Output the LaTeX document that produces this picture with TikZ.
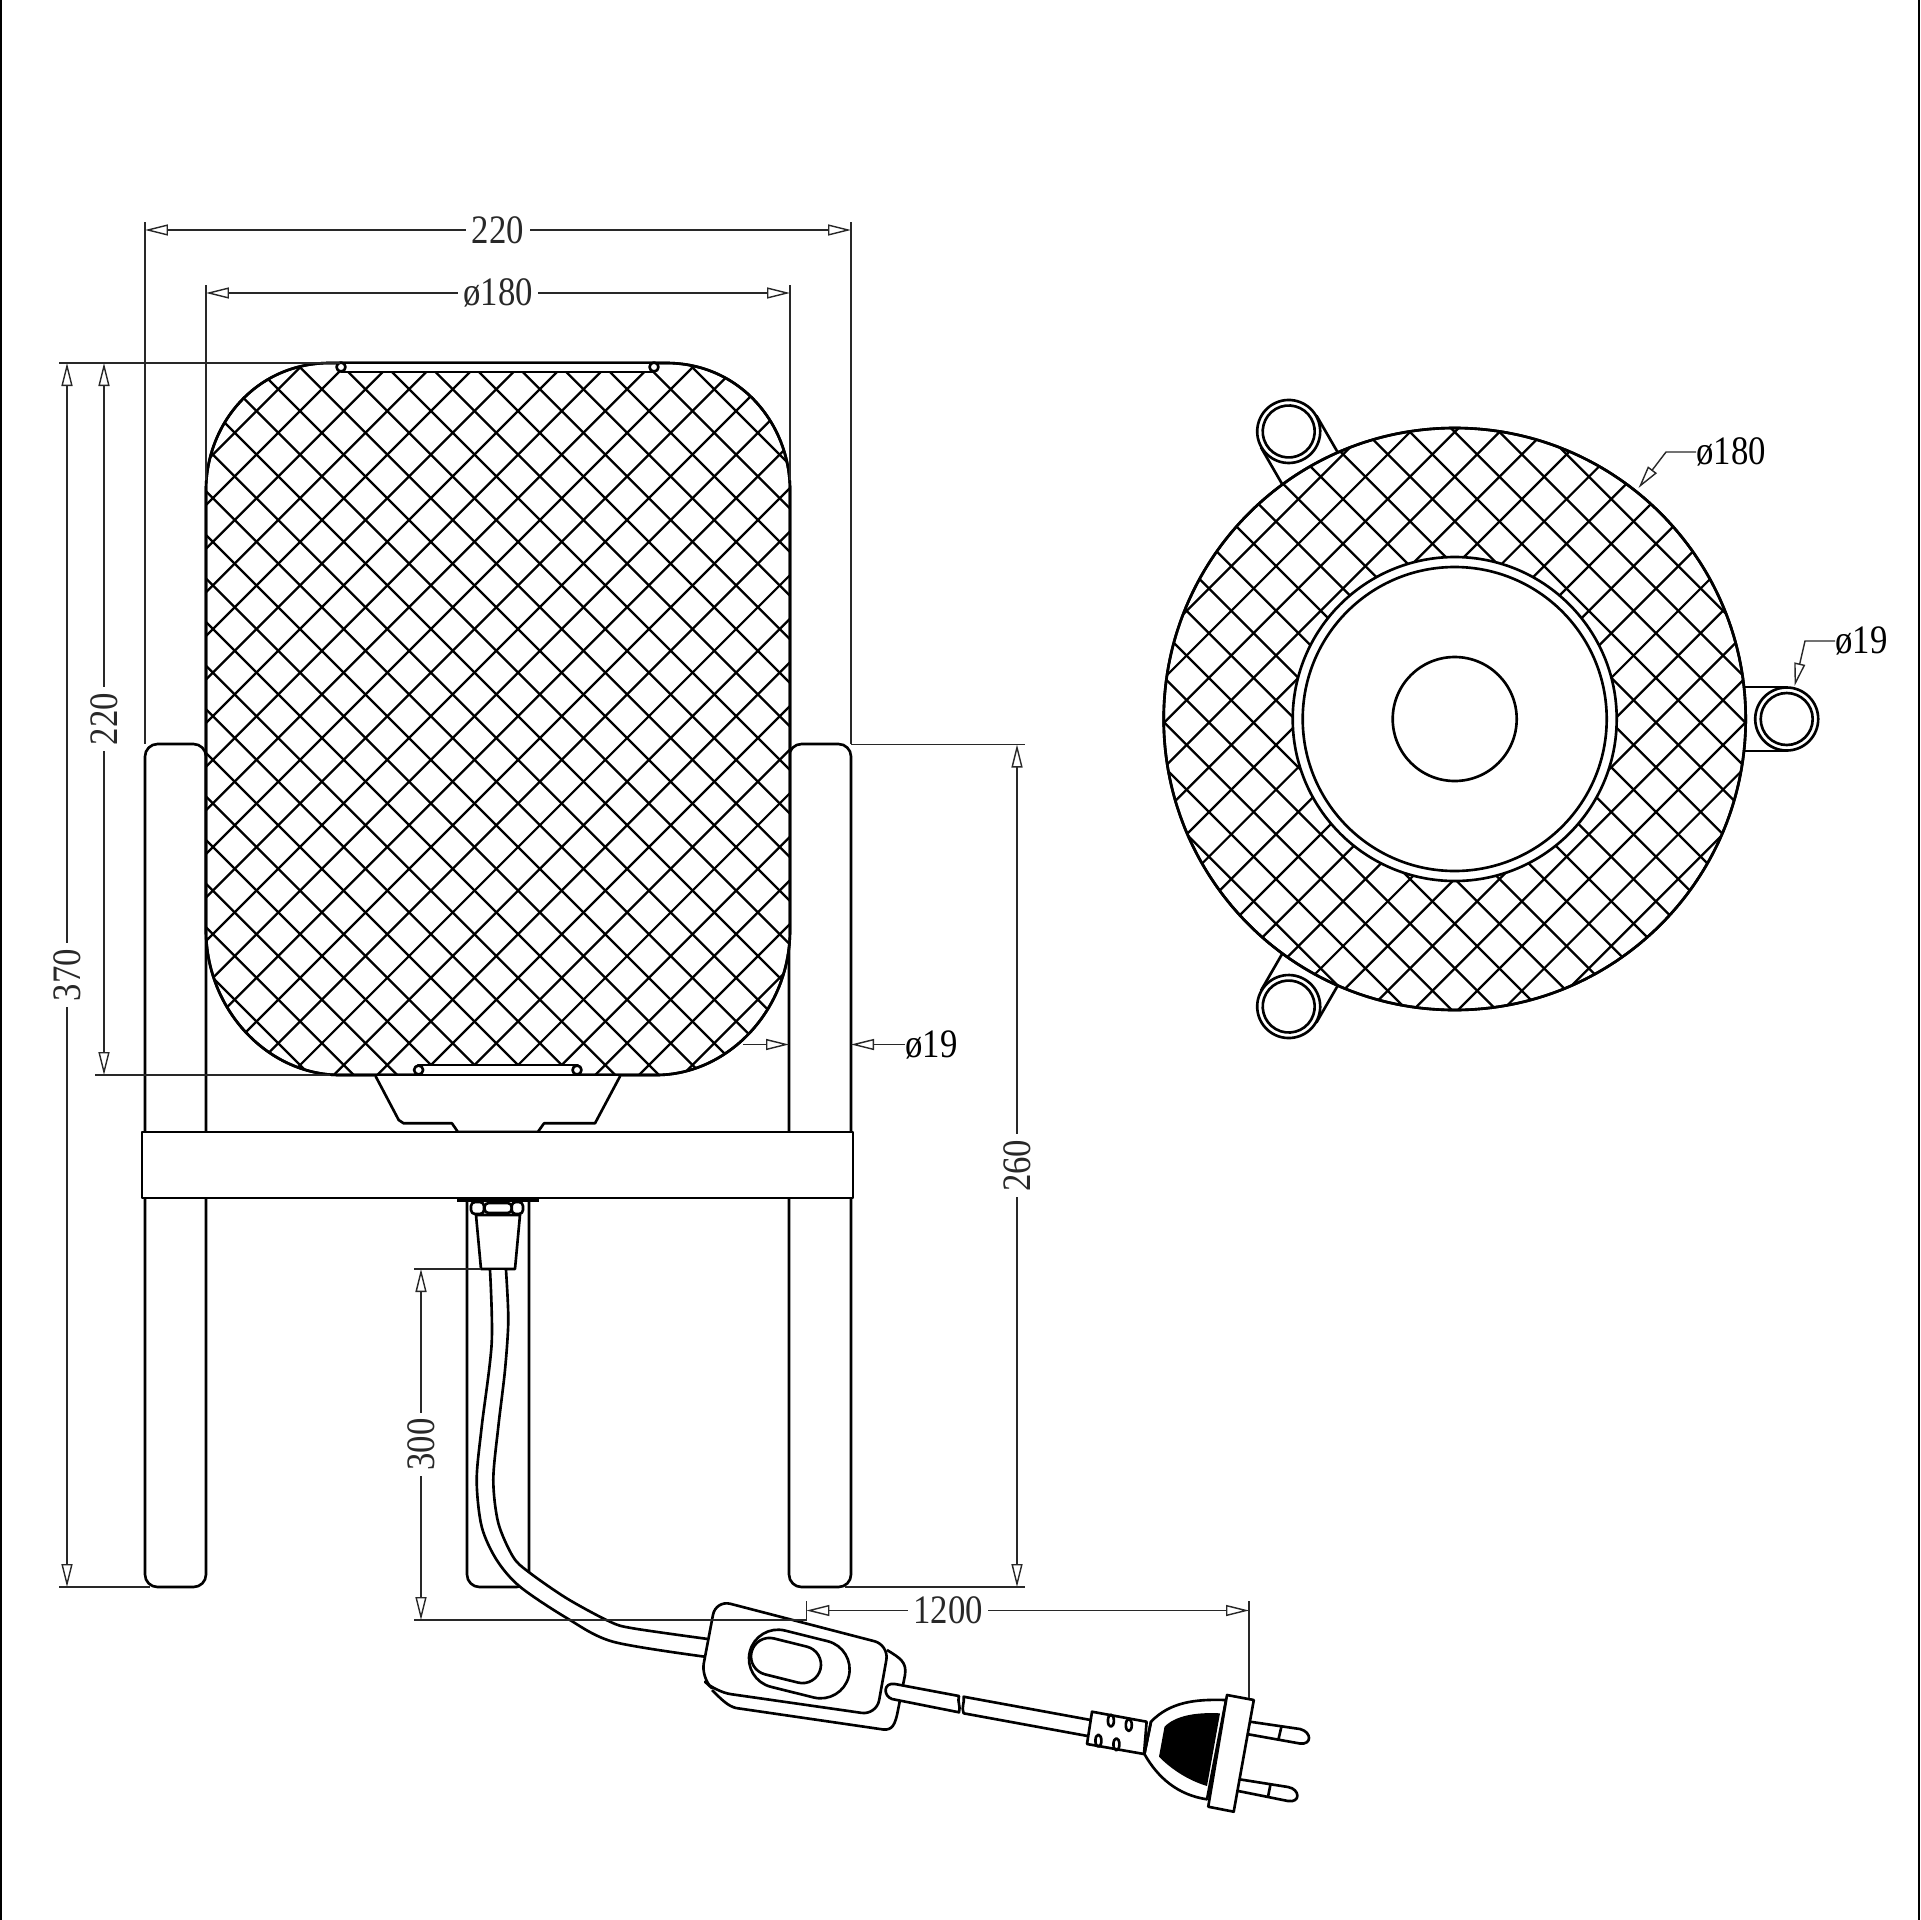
\documentclass[tikz,border=0pt]{standalone}
\usepackage{fontspec}
\setmainfont[FakeStretch=0.86]{Liberation Serif}
\usetikzlibrary{arrows.meta,shapes.misc}
\definecolor{dimgray}{RGB}{40,40,40}
\newcommand{\shadepath}{(206,490) .. controls (206,425) and (255,363) .. (330,363) -- (666,363) .. controls (741,363) and (790,425) .. (790,490) -- (790,930) .. controls (790,1010) and (728,1075) .. (656,1075) -- (340,1075) .. controls (268,1075) and (206,1010) .. (206,930) -- cycle}

\begin{document}
\begin{tikzpicture}[x=0.02cm,y=-0.02cm,inner sep=0pt]
\tikzstyle{outl}=[line width=1.5pt,black,line join=round]
\tikzstyle{mesh}=[line width=1.3pt,black]
\tikzstyle{ext}=[line width=0.8pt,dimgray]
\tikzstyle{dimline}=[line width=0.8pt,dimgray,{Triangle[open,length=4.6mm,width=2.2mm]}-{Triangle[open,length=4.6mm,width=2.2mm]}]
\tikzstyle{pointer}=[line width=0.8pt,dimgray,-{Triangle[open,length=4.6mm,width=2.2mm]}]
\tikzstyle{dimtxt}=[fill=white,inner xsep=1.1mm,inner ysep=0.5mm,font=\fontsize{23}{26}\selectfont]
\tikzstyle{plaintxt}=[font=\fontsize{23}{26}\selectfont]
\useasboundingbox (0,0) rectangle (1920,1920);
\fill[white] (0,0) rectangle (1920,1920);
\draw[line width=1.1pt] (0.8,0) -- (0.8,1920);
\draw[line width=1.1pt] (1918.7,0) -- (1918.7,1920);
% legs
\draw[outl,rounded corners=0.25cm] (145,744) rectangle (206,1587);
\draw[outl,rounded corners=0.25cm] (789,744) rectangle (851,1587);
\draw[outl,rounded corners=0.25cm] (467,1190) -- (467,1587) -- (529,1587) -- (529,1190);
% shade
\draw[outl,fill=white] \shadepath;
\begin{scope}
\clip \shadepath;
\foreach \i in {-20,...,30} {
  \pgfmathsetmacro{\xa}{343.7+\i*43.6}
  \draw[mesh] (\xa-1000,411-1000) -- (\xa+1000,411+1000);
  \draw[mesh] (\xa-1000,411+1000) -- (\xa+1000,411-1000);
}
\end{scope}
\draw[outl] \shadepath;
% rods
\draw[outl,fill=white] (341,363) rectangle (654,372);
\draw[outl,fill=white] (341,367) circle [radius=4.5];
\draw[outl,fill=white] (654,367) circle [radius=4.5];
\draw[outl,fill=white] (418,1065) rectangle (578,1075);
\draw[outl,fill=white] (418.6,1070) circle [radius=4.5];
\draw[outl,fill=white] (577,1070) circle [radius=4.5];
% socket and bar
\draw[outl,fill=white] (375.5,1076) -- (398.7,1120) -- (403.6,1123.3) -- (452,1123.3) -- (457.9,1132) -- (537.8,1132) -- (544,1123.3) -- (595,1123.3) -- (620.2,1076);
\draw[outl,fill=white] (142,1132) rectangle (853,1198);
% nut and bushing
\fill (457,1197) rectangle (539,1202);
\draw[outl,fill=white,rounded corners=0.08cm] (471,1202) rectangle (484,1214);
\draw[outl,fill=white,rounded corners=0.08cm] (484.5,1203) rectangle (511.7,1213);
\draw[outl,fill=white,rounded corners=0.08cm] (511.7,1202) rectangle (523,1214);
\draw[outl,fill=white] (476,1215) -- (520,1215) -- (515,1269) -- (481,1269) -- cycle;
% cord
\fill[white] plot[smooth] coordinates {(490,1270) (491.7,1343) (481.7,1426.7) (476.7,1480) (481.7,1526.7) (496.7,1560) (520,1586.7) (566.7,1618) (613,1641.7) (705,1656.7)} -- plot[smooth] coordinates {(708,1639) (633,1628.3) (610,1621.7) (566.7,1598.3) (528.3,1571.7) (513,1556.7) (498.3,1523) (493.3,1480) (498.3,1426.7) (505,1370) (508.3,1320) (506,1270)} -- cycle;
\draw[outl] plot[smooth] coordinates {(490,1270) (491.7,1343) (481.7,1426.7) (476.7,1480) (481.7,1526.7) (496.7,1560) (520,1586.7) (566.7,1618) (613,1641.7) (705,1656.7)};
\draw[outl] plot[smooth] coordinates {(506,1270) (508.3,1320) (505,1370) (498.3,1426.7) (493.3,1480) (498.3,1523) (513,1556.7) (528.3,1571.7) (566.7,1598.3) (610,1621.7) (633,1628.3) (708,1639)};
% switch
\draw[outl,fill=white] (887,1650) .. controls (900,1658) and (907,1662) .. (905,1675) -- (897,1715) .. controls (894,1728) and (890,1731) .. (880,1729) -- (736,1708) .. controls (728,1706) and (722,1700) .. (712,1690);
\draw[outl,fill=white,rounded corners=0.3cm] (715.8,1600) -- (889,1645) -- (876.5,1715) -- (716,1692) -- (701,1678) -- cycle;
\node[draw,outl,rounded rectangle,minimum width=2.04cm,minimum height=1.16cm,rotate=-14] (swouter) at (799.3,1664) {};
\node[draw,outl,rounded rectangle,minimum width=1.42cm,minimum height=0.74cm,rotate=-14] (swinner) at (786,1660.5) {};
% lead
\draw[outl,fill=white] (959,1696) -- (895,1684) .. controls (883,1682) and (883,1696) .. (892,1699) -- (959,1712.3) .. controls (961,1706) and (957,1702) .. (959,1696) -- cycle;
\draw[outl] (1090.8,1720) -- (963.6,1696.7) .. controls (965,1702) and (961,1707) .. (963.6,1713.3) -- (1087.7,1736);
% plug
\draw[outl,fill=white] (1151,1721.7) .. controls (1170,1702) and (1195,1699) .. (1226,1700) -- (1207,1799.3) .. controls (1178,1795) and (1158,1778) .. (1144.4,1754) -- cycle;
\fill (1164.5,1726.7) .. controls (1175,1716) and (1195,1712) .. (1220,1713.3) -- (1207,1786) .. controls (1187,1780) and (1170,1768) .. (1159,1756.7) -- cycle;
\draw[outl,fill=white] (1092,1711.7) -- (1146.6,1721.7) -- (1144,1754) -- (1087,1744) -- cycle;
\draw[outl] (1151,1721.7) -- (1144.4,1754);
\foreach \sx/\sy in {1110.9/1720.7,1128.8/1725,1098.4/1740.7,1116.4/1744.3}
  \draw[outl] (\sx,\sy) ellipse [x radius=3,y radius=6];
\draw[outl,fill=white] (1250,1721.7) -- (1300,1729) .. controls (1312,1732) and (1312,1745) .. (1300,1743.5) -- (1248.4,1734.3);
\draw[outl] (1281.4,1726.7) -- (1278.3,1740);
\draw[outl,fill=white] (1239.5,1779.3) -- (1288,1787) .. controls (1300,1789) and (1301,1803) .. (1288,1801) -- (1236.8,1790.7);
\draw[outl] (1270.7,1783.3) -- (1268,1796.7);
\draw[outl,fill=white] (1227,1695) -- (1253.8,1700) -- (1233.7,1811.7) -- (1208.2,1806.7) -- cycle;
% top view
\foreach \ang in {0,120,240} {
\begin{scope}[shift={(1454.7,719)},rotate=\ang]
\draw[outl] (285,-32) -- (332,-32);
\draw[outl] (285,32) -- (332,32);
\draw[outl,fill=white] (332,0) circle [radius=31.5];
\draw[outl] (332,0) circle [radius=26];
\end{scope}
}
\draw[outl,fill=white] (1454.7,719) circle [radius=291];
\begin{scope}
\clip (1454.7,719) circle [radius=291];
\foreach \i in {-18,...,18} {
  \pgfmathsetmacro{\xb}{1454.8+\i*44.7}
  \draw[mesh] (\xb-1000,476.7-1000) -- (\xb+1000,476.7+1000);
  \draw[mesh] (\xb-1000,476.7+1000) -- (\xb+1000,476.7-1000);
}
\end{scope}
\draw[outl] (1454.7,719) circle [radius=291];
\draw[outl,fill=white] (1454.7,719) circle [radius=162];
\draw[outl] (1454.7,719) circle [radius=152];
\draw[outl] (1454.7,719) circle [radius=62];
% extension lines
\draw[ext] (145,222) -- (145,744);
\draw[ext] (851,222) -- (851,744);
\draw[ext] (206,285) -- (206,480);
\draw[ext] (790,285) -- (790,480);
\draw[ext] (59,363) -- (340,363);
\draw[ext] (95,1075) -- (330,1075);
\draw[ext] (59,1587) -- (150,1587);
\draw[ext] (851,744.5) -- (1025,744.5);
\draw[ext] (845,1587) -- (1025,1587);
\draw[ext] (414,1269) -- (481,1269);
\draw[ext] (414,1620) -- (806,1620);
\draw[ext] (806.4,1601) -- (806.4,1621);
\draw[ext] (1249,1601) -- (1249,1698);
% end points of the dimensions
\coordinate (wideL) at (145,230);
\coordinate (wideR) at (851,230);
\coordinate (shadeL) at (206,293);
\coordinate (shadeR) at (790,293);
\coordinate (tallT) at (67,363);
\coordinate (tallB) at (67,1587);
\coordinate (bodyT) at (104,363);
\coordinate (bodyB) at (104,1075);
\coordinate (legT) at (1017,744.5);
\coordinate (legB) at (1017,1587);
\coordinate (cordT) at (421,1269);
\coordinate (cordB) at (421,1620);
\coordinate (leadL) at (806.4,1610.5);
\coordinate (leadR) at (1249,1610.5);
\draw[dimline] (wideL) -- node[dimtxt] (t220a) {220} (wideR);
\draw[dimline] (shadeL) -- node[dimtxt] (t180a) {ø180} (shadeR);
\draw[dimline] (tallT) -- node[dimtxt,rotate=90] (t370) {370} (tallB);
\draw[dimline] (bodyT) -- node[dimtxt,rotate=90] (t220b) {220} (bodyB);
\draw[dimline] (legT) -- node[dimtxt,rotate=90] (t260) {260} (legB);
\draw[dimline] (cordT) -- node[dimtxt,rotate=90] (t300) {300} (cordB);
\draw[dimline] (leadL) -- node[dimtxt,pos=0.32] (t1200) {1200} (leadR);
% pointers
\node[plaintxt,anchor=west] (t19a) at (905,1044.5) {ø19};
\coordinate (rodL) at (789,1044.5);
\coordinate (rodR) at (851,1044.5);
\coordinate (rodtail) at (743,1044.5);
\draw[pointer] (rodtail) -- (rodL);
\draw[pointer] (t19a.west) -- (rodR);
\node[plaintxt,anchor=west] (t180b) at (1696,452) {ø180};
\coordinate (rimtip) at (1638.5,488);
\draw[pointer] (t180b.west) -- (1666,452) -- (rimtip);
\node[plaintxt,anchor=west] (t19b) at (1835,641) {ø19};
\coordinate (lugtip) at (1794.6,686);
\draw[pointer] (t19b.west) -- (1805,641) -- (lugtip);
\end{tikzpicture}
\end{document}
